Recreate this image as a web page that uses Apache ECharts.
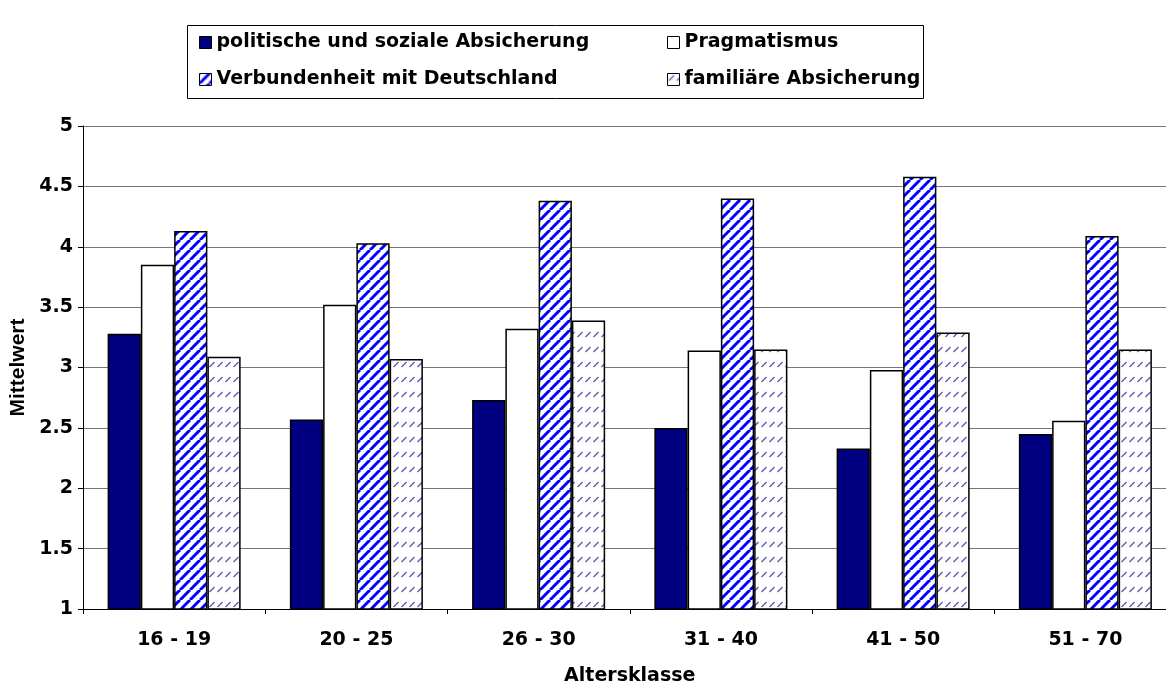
<!DOCTYPE html>
<html>
<head>
<meta charset="utf-8">
<script src="https://cdn.jsdelivr.net/npm/echarts@6/dist/echarts.min.js"></script>
<style>
html,body{margin:0;padding:0;background:#fff;}
#chart{width:1166px;height:685px;}
</style>
</head>
<body>
<div id="chart"></div>
<script>
const categories = ['16 - 19', '20 - 25', '26 - 30', '31 - 40', '41 - 50', '51 - 70'];
const seriesNames = ['politische und soziale Absicherung', 'Pragmatismus', 'Verbundenheit mit Deutschland', 'familiäre Absicherung'];
const politischSozial = [3.28, 2.57, 2.73, 2.50, 2.33, 2.45];
const pragmatismus = [3.85, 3.52, 3.32, 3.14, 2.98, 2.56];
const verbundenheit = [4.13, 4.03, 4.38, 4.40, 4.58, 4.09];
const familiaer = [3.09, 3.07, 3.39, 3.15, 3.29, 3.15];
const yMin = 1, yMax = 5, yStep = 0.5;
const xAxisTitle = 'Altersklasse';
const yAxisTitle = 'Mittelwert';

function stripePattern() {
  const P = 10;
  const c = document.createElement('canvas');
  c.width = P; c.height = P;
  const g = c.getContext('2d');
  g.fillStyle = '#ffffff'; g.fillRect(0, 0, P, P);
  g.strokeStyle = '#0000ff'; g.lineWidth = 3.0;
  for (let k = -1; k <= 1; k++) {
    g.beginPath(); g.moveTo(k * P, P); g.lineTo(k * P + P, 0); g.stroke();
  }
  return { image: c, repeat: 'repeat' };
}
function dashPattern() {
  const W = 8, H = 15;
  const c = document.createElement('canvas');
  c.width = W; c.height = H;
  const g = c.getContext('2d');
  g.fillStyle = '#ffffff'; g.fillRect(0, 0, W, H);
  g.strokeStyle = '#5656a8'; g.lineWidth = 1.3;
  g.beginPath(); g.moveTo(1.5, 7); g.lineTo(6.5, 2); g.stroke();
  return { image: c, repeat: 'repeat' };
}

const FONT = '"DejaVu Sans", sans-serif';
const FONT_ARIAL = '"Liberation Sans", Arial, sans-serif';
const fills = ['#000080', '#ffffff', stripePattern(), dashPattern()];
const values = [politischSozial, pragmatismus, verbundenheit, familiaer];

const chart = echarts.init(document.getElementById('chart'), null, { renderer: 'canvas' });

const legendPos = [[199, 33], [667, 33], [199, 70], [667, 70]];
const legends = seriesNames.map((n, i) => ({
  data: [n],
  left: legendPos[i][0], top: legendPos[i][1],
  itemWidth: 12, itemHeight: 12, itemGap: 0,
  icon: 'rect',
  selectedMode: false,
  padding: 0,
  itemStyle: { borderColor: '#000', borderWidth: 1 },
  textStyle: { fontFamily: FONT, fontWeight: 'bold', fontSize: 19, color: '#000', padding: [0, 0, 0, 0] }
}));

chart.setOption({
  animation: false,
  backgroundColor: '#fff',
  graphic: [{
    type: 'rect', left: 185, top: 23,
    shape: { width: 736, height: 73 },
    style: { fill: 'none', stroke: '#000', lineWidth: 1 }, z: 10
  }],
  legend: legends,
  grid: { left: 83, top: 126, width: 1093.5, height: 483, containLabel: false, outerBoundsMode: 'none' },
  xAxis: {
    type: 'category', data: categories,
    axisLine: { lineStyle: { color: '#000', width: 1 } },
    axisTick: { show: true, length: 5, lineStyle: { color: '#000' } },
    axisLabel: { fontFamily: FONT, fontWeight: 'bold', fontSize: 19, color: '#000', margin: 22 },
    name: xAxisTitle, nameLocation: 'middle', nameGap: 58,
    nameTextStyle: { fontFamily: FONT, fontWeight: 'bold', fontSize: 19, color: '#000' }
  },
  yAxis: {
    type: 'value', min: yMin, max: yMax, interval: yStep,
    axisLine: { show: true, lineStyle: { color: '#000', width: 1 } },
    axisTick: { show: true, length: 5, lineStyle: { color: '#000' } },
    splitLine: { lineStyle: { color: '#777777', width: 1 } },
    axisLabel: { fontFamily: FONT, fontWeight: 'bold', fontSize: 19, color: '#000', margin: 10 },
    name: yAxisTitle, nameLocation: 'middle', nameGap: 53, nameRotate: 90,
    nameTextStyle: { fontFamily: FONT_ARIAL, fontWeight: 'bold', fontSize: 21, color: '#000' }
  },
  series: seriesNames.map((n, i) => ({
    name: n, type: 'bar', data: values[i],
    barGap: '0%', barCategoryGap: '27%',
    itemStyle: { color: fills[i], borderColor: '#000', borderWidth: 1.5 }
  }))
});
</script>
</body>
</html>
